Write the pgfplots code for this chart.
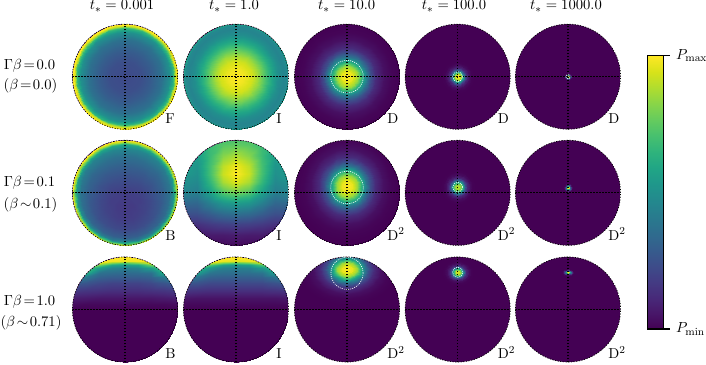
\documentclass[border=0pt]{standalone}
\usepackage{pgfplots}
\pgfplotsset{compat=1.18}
\definecolor{vir0}{HTML}{440154}

% r or y / colour level between 0 and 1
\newcommand\finish[2]{\xdef\nr{#1}\xdef\nc{#2}}
\newcommand\radial[5]{% cx cy sx sy r/v list
  \gdef\mesh{}\gdef\cnt{0}%
  \foreach \r/\v in {#5}{%
    \foreach \a in {0,10,...,360}{%
      \pgfmathsetmacro\X{#1+#3*\r*cos(\a)}%
      \pgfmathsetmacro\Y{#2+#4*\r*sin(\a)}%
      \xdef\mesh{\mesh (\X,\Y) [\v]}%
    }%
    \pgfmathtruncatemacro\n{\cnt+1}\xdef\cnt{\n}%
  }%
  \finish{\cnt}{37}}
\newcommand\polar[1]{% r/{v at 0,15,...,180 from the top}
  \gdef\mesh{}\gdef\cnt{0}%
  \foreach \r/\v in {#1}{%
    \foreach \a/\i in {-180/12,-165/11,-150/10,-135/9,-120/8,-105/7,-90/6,-75/5,-60/4,-45/3,-30/2,-15/1,0/0,15/1,30/2,45/3,60/4,75/5,90/6,105/7,120/8,135/9,150/10,165/11,180/12}{%
      \pgfmathsetmacro\X{\r*sin(\a)}%
      \pgfmathsetmacro\Y{\r*cos(\a)}%
      \pgfmathparse{{\v}[\i]}\let\w\pgfmathresult
      \xdef\mesh{\mesh (\X,\Y) [\w]}%
    }%
    \pgfmathtruncatemacro\n{\cnt+1}\xdef\cnt{\n}%
  }%
  \finish{\cnt}{25}}
\newcommand\grid[1]{% y/{v at |x|=0,.25,.5,.75,1.05}
  \gdef\mesh{}\gdef\cnt{0}%
  \foreach \y/\v in {#1}{%
    \foreach \x/\i in {-1.05/4,-0.75/3,-0.5/2,-0.25/1,0/0,0.25/1,0.5/2,0.75/3,1.05/4}{%
      \pgfmathparse{{\v}[\i]}\let\w\pgfmathresult
      \xdef\mesh{\mesh (\x,\y) [\w]}%
    }%
    \pgfmathtruncatemacro\n{\cnt+1}\xdef\cnt{\n}%
  }%
  \finish{\cnt}{9}}

\newcommand\disk[4]{% cx cy letter baseline offset
  \begin{scope}
    \clip (#1,#2) circle (52.6);
    \fill[vir0] (#1,#2) circle (53);
    \begin{axis}[at={(#1*0.75pt,#2*0.75pt)}, anchor=center, scale only axis, width=78.9pt, height=78.9pt,
      xmin=-1, xmax=1, ymin=-1, ymax=1, hide axis, colormap/viridis, point meta min=0, point meta max=1]
      \edef\temp{\noexpand\addplot[surf, shader=interp, mesh/rows=\nr, mesh/cols=\nc, point meta=explicit] coordinates {\mesh};}\temp
      \addplot[black, line width=0.85pt, dash pattern=on 1.1pt off 1.15pt] coordinates {(-1,0) (1,0)};
      \addplot[black, line width=0.85pt, dash pattern=on 1.1pt off 1.15pt] coordinates {(0,-1) (0,1)};
    \end{axis}
  \end{scope}
  \draw[black, line width=0.5pt, dash pattern=on 0.9pt off 1.1pt] (#1,#2) circle (52.6);
  \pgfmathsetmacro\lx{#1+40}\pgfmathsetmacro\ly{#2-#4}
  \node[anchor=base west, inner sep=0pt] at (\lx,\ly) {#3};
}
\newcommand\ring[3]{% cx cy radius, px
  \draw[white, line width=0.45pt, dash pattern=on 0.8pt off 0.8pt] (#1,#2) circle (#3);}

\begin{document}
\begin{tikzpicture}[x=0.75pt, y=0.75pt, every node/.style={font=\fontsize{10.8}{13}\selectfont}]
\path[use as bounding box] (0,0) rectangle (706,364);

% titles
\foreach \x/\t in {122/0.001, 234/1.0, 346.7/10.0, 454/100.0, 566/1000.0}
  \node[anchor=base, inner sep=0pt] at (\x,354) {$t_*=\t$};
% row labels
\node[anchor=base, inner sep=0pt] at (29.5,294.7) {$\Gamma\beta\!=\!0.0$};
\node[anchor=base, inner sep=0pt] at (30.5,274.7) {$(\beta\!=\!0.0)$};
\node[anchor=base, inner sep=0pt] at (29.5,177.3) {$\Gamma\beta\!=\!0.1$};
\node[anchor=base, inner sep=0pt] at (30.5,155.7) {$(\beta\!\sim\!0.1)$};
\node[anchor=base, inner sep=0pt] at (29.5,59) {$\Gamma\beta\!=\!1.0$};
\node[anchor=base, inner sep=0pt] at (31,37.3) {$(\beta\!\sim\!0.71)$};

% row 1
\radial{0}{0}{1}{1}{0/0.22,0.3/0.24,0.5/0.29,0.7/0.37,0.85/0.5,0.92/0.66,0.96/0.9,0.99/1,1.1/1}
\disk{125}{287.3}{F}{46.6}
\radial{0}{0}{1}{1}{0/1,0.15/0.98,0.3/0.93,0.4/0.86,0.5/0.77,0.65/0.62,0.8/0.49,0.9/0.45,0.97/0.47,1/0.55,1.1/0.55}
\disk{236}{287.3}{I}{46.6}
\radial{0}{0}{1}{1}{0/1,0.1/0.97,0.2/0.85,0.3/0.58,0.38/0.38,0.45/0.24,0.55/0.12,0.7/0.04,0.85/0.01,1/0,1.2/0}
\disk{347}{287.3}{D}{46.6}
\ring{347}{287.3}{16.3}
\radial{0}{0}{0.31}{0.31}{0/1,0.1/0.97,0.2/0.85,0.3/0.6,0.38/0.38,0.45/0.22,0.55/0.1,0.7/0.03,0.85/0.005,1/0}
\disk{457.7}{287.3}{D}{46.6}
\ring{457.7}{287.3}{5}
\radial{0}{0}{0.08}{0.08}{0/1,0.2/1,0.3/0.9,0.4/0.6,0.5/0.35,0.65/0.15,0.85/0.03,1/0}
\disk{568}{287.3}{D}{46.6}
\ring{568}{287.3}{2.1}

% row 2
\polar{0/{0.18,0.18,0.18,0.18,0.18,0.18,0.18,0.18,0.18,0.18,0.18,0.18,0.18},
  0.3/{0.24,0.24,0.24,0.23,0.22,0.21,0.20,0.19,0.18,0.18,0.17,0.17,0.17},
  0.5/{0.30,0.30,0.29,0.28,0.27,0.25,0.24,0.22,0.21,0.20,0.19,0.18,0.18},
  0.7/{0.37,0.37,0.36,0.35,0.33,0.32,0.30,0.28,0.26,0.24,0.23,0.22,0.22},
  0.85/{0.46,0.46,0.45,0.44,0.42,0.40,0.38,0.36,0.34,0.32,0.31,0.30,0.30},
  0.92/{0.60,0.60,0.58,0.56,0.54,0.52,0.50,0.48,0.46,0.44,0.43,0.42,0.42},
  0.97/{0.85,0.85,0.84,0.83,0.81,0.80,0.78,0.76,0.74,0.72,0.71,0.70,0.70},
  1/{1,1,1,1,0.99,0.99,0.98,0.97,0.95,0.93,0.92,0.90,0.90},
  1.1/{1,1,1,1,0.99,0.99,0.98,0.97,0.95,0.93,0.92,0.90,0.90}}
\disk{125}{171.2}{B}{47.4}
\grid{1.05/{0.70,0.70,0.72,0.72,0.75},
  0.9/{0.76,0.74,0.68,0.60,0.65},
  0.7/{0.88,0.82,0.68,0.55,0.60},
  0.5/{0.98,0.90,0.70,0.52,0.55},
  0.35/{1,0.92,0.70,0.50,0.55},
  0.2/{0.95,0.87,0.66,0.47,0.50},
  0/{0.78,0.72,0.56,0.42,0.45},
  -0.2/{0.55,0.52,0.43,0.33,0.34},
  -0.4/{0.36,0.34,0.29,0.24,0.24},
  -0.6/{0.20,0.19,0.17,0.14,0.14},
  -0.8/{0.08,0.07,0.07,0.05,0.05},
  -1.05/{0.01,0.01,0.01,0.01,0.01}}
\disk{236}{171.2}{I}{47.4}
\radial{0}{0.125}{0.98}{1.02}{0/1,0.1/0.97,0.2/0.85,0.3/0.6,0.38/0.38,0.45/0.24,0.55/0.12,0.7/0.04,0.85/0.01,1/0,1.3/0}
\disk{347}{171.2}{D$^2$}{47.4}
\ring{347}{176.5}{16.3}
\radial{0}{0.11}{0.33}{0.33}{0/0.9,0.1/0.88,0.2/0.78,0.3/0.58,0.38/0.38,0.45/0.22,0.55/0.1,0.7/0.03,0.85/0.005,1/0}
\disk{457.7}{171.2}{D$^2$}{47.4}
\ring{457.7}{176.8}{5}
\radial{0}{0.10}{0.09}{0.09}{0/1,0.2/1,0.3/0.9,0.4/0.6,0.5/0.35,0.65/0.15,0.85/0.03,1/0}
\disk{568}{171.2}{D$^2$}{47.4}

% row 3
\grid{1.05/{1,1,1,1,1},
  0.97/{1,1,1,1,1},
  0.92/{0.97,0.98,1,1,1},
  0.88/{0.72,0.80,0.95,1,1},
  0.84/{0.55,0.58,0.78,0.90,0.90},
  0.78/{0.42,0.44,0.55,0.75,0.80},
  0.70/{0.34,0.35,0.37,0.62,0.70},
  0.62/{0.29,0.29,0.31,0.40,0.50},
  0.50/{0.20,0.20,0.22,0.26,0.30},
  0.37/{0.14,0.14,0.15,0.16,0.18},
  0.21/{0.06,0.06,0.06,0.07,0.08},
  0.10/{0.02,0.02,0.02,0.02,0.03},
  0/{0,0,0,0,0},
  -1.05/{0,0,0,0,0}}
\disk{125}{54.5}{B}{49}
\grid{1.05/{1,1,1,1,1},
  0.97/{1,1,1,1,1},
  0.93/{0.95,0.97,1,1,1},
  0.89/{0.72,0.78,0.92,1,1},
  0.84/{0.52,0.55,0.72,0.85,0.85},
  0.78/{0.42,0.43,0.52,0.68,0.75},
  0.70/{0.36,0.36,0.38,0.55,0.65},
  0.62/{0.30,0.30,0.31,0.38,0.45},
  0.50/{0.22,0.22,0.22,0.25,0.28},
  0.37/{0.14,0.14,0.14,0.15,0.16},
  0.21/{0.05,0.05,0.05,0.05,0.06},
  0.10/{0.02,0.02,0.02,0.02,0.02},
  0/{0,0,0,0,0},
  -1.05/{0,0,0,0,0}}
\disk{236}{54.5}{I}{49}
\radial{0}{0.764}{0.92}{0.66}{0/1,0.1/0.97,0.2/0.85,0.3/0.58,0.38/0.38,0.45/0.24,0.55/0.12,0.7/0.04,0.85/0.01,1/0,1.3/0}
\disk{347}{54.5}{D$^2$}{49}
\ring{347}{90.7}{16.1}
\radial{0}{0.707}{0.3}{0.25}{0/0.95,0.1/0.92,0.2/0.8,0.3/0.58,0.38/0.38,0.45/0.22,0.55/0.1,0.7/0.03,0.85/0.005,1/0}
\disk{457.7}{54.5}{D$^2$}{49}
\ring{457.7}{91.7}{5.2}
\radial{0}{0.707}{0.12}{0.065}{0/1,0.2/1,0.3/0.9,0.4/0.6,0.5/0.35,0.65/0.15,0.85/0.03,1/0}
\disk{568}{54.5}{D$^2$}{49}

% colour bar
\begin{axis}[at={(647.3*0.75pt,35*0.75pt)}, anchor=south west, scale only axis, width=12.3pt, height=205pt,
  xmin=0, xmax=1, ymin=0, ymax=1, xtick=\empty, ytick={0,1},
  yticklabels={$P_{\min}$,$P_{\max}$}, ytick pos=right, yticklabel pos=right,
  tick align=outside, major tick length=4.7pt, tick style={black, line width=0.9pt},
  axis line style={black, line width=0.9pt}, colormap/viridis, point meta min=0, point meta max=1,
  axis on top, yticklabel style={xshift=1pt, font=\fontsize{10.8}{13}\selectfont}]
\addplot[surf, shader=interp, mesh/rows=11, mesh/cols=2, point meta=explicit] coordinates {
  (0,0) [0] (1,0) [0] (0,0.1) [0.1] (1,0.1) [0.1] (0,0.2) [0.2] (1,0.2) [0.2]
  (0,0.3) [0.3] (1,0.3) [0.3] (0,0.4) [0.4] (1,0.4) [0.4] (0,0.5) [0.5] (1,0.5) [0.5]
  (0,0.6) [0.6] (1,0.6) [0.6] (0,0.7) [0.7] (1,0.7) [0.7] (0,0.8) [0.8] (1,0.8) [0.8]
  (0,0.9) [0.9] (1,0.9) [0.9] (0,1) [1] (1,1) [1]};
\end{axis}
\end{tikzpicture}
\end{document}
